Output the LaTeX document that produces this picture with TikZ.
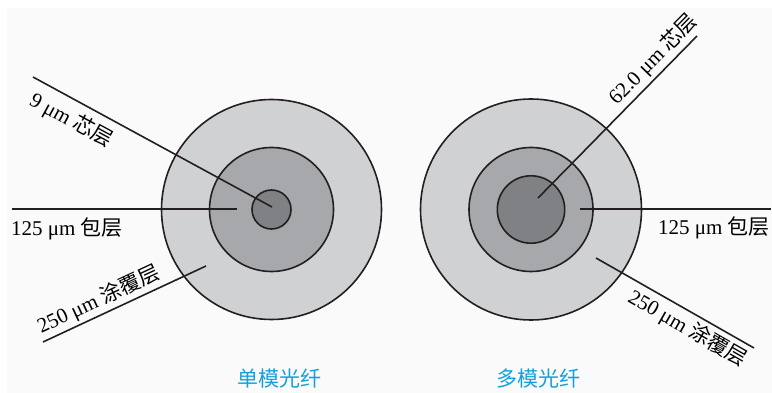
\documentclass[tikz,border=0pt]{standalone}
\usepackage{fontspec}
\setmainfont{Liberation Serif}
\newfontfamily\cjk{Noto Sans CJK SC}
\definecolor{bgc}{RGB}{250,250,250}
\definecolor{linec}{RGB}{35,31,32}
\definecolor{outc}{RGB}{208,209,211}
\definecolor{midc}{RGB}{167,168,171}
\definecolor{inc}{RGB}{128,129,132}
\definecolor{capc}{RGB}{20,160,220}
\begin{document}
\begin{tikzpicture}[x=1pt,y=-1pt,
  ring/.style={draw=linec,line width=1.6pt},
  leader/.style={draw=linec,line width=1.6pt},
  lbl/.style={font=\fontsize{21}{23}\selectfont,inner sep=1pt,text=black},
  captxt/.style={font=\fontsize{21}{23}\selectfont\cjk,text=capc,inner sep=0pt}]
\useasboundingbox (0,0) rectangle (772,393);
\fill[bgc] (7,8) rectangle (772,393);
% single-mode
\coordinate (sm) at (271.5,209.5);
\fill[outc,ring] (sm) circle[radius=110];
\fill[midc,ring] (sm) circle[radius=62];
\fill[inc,ring] (sm) circle[radius=19.5];
% multimode
\coordinate (mm) at (531,209.5);
\fill[outc,ring] (mm) circle[radius=110.5];
\fill[midc,ring] (mm) circle[radius=62];
\fill[inc,ring] (mm) circle[radius=33.7];
% left leaders
\coordinate (a1) at (33,77);   \coordinate (a2) at (272,207);
\coordinate (b1) at (12,209);  \coordinate (b2) at (237,209);
\coordinate (c1) at (43,342);  \coordinate (c2) at (206,266);
\draw[leader] (a1) -- (a2) node[lbl,pos=0.2,sloped,below=7pt] (la) {9 μm {\cjk 芯层}};
\draw[leader] (b1) -- (b2);
\node[lbl,anchor=base west] (lb) at (10,235.5) {125 μm {\cjk 包层}};
\draw[leader] (c1) -- (c2) node[lbl,pos=0.38,sloped,above=2pt] (lcoat) {250 μm {\cjk 涂覆层}};
% right leaders
\coordinate (d1) at (538,198); \coordinate (d2) at (697,36);
\coordinate (e1) at (580,209); \coordinate (e2) at (771,209);
\coordinate (f1) at (596,258); \coordinate (f2) at (754,348);
\draw[leader] (d1) -- (d2) node[lbl,pos=0.79,sloped,above=2pt] (ld) {62.0 μm {\cjk 芯层}};
\draw[leader] (e1) -- (e2);
\node[lbl,anchor=base east] (le) at (771,235) {125 μm {\cjk 包层}};
\draw[leader] (f1) -- (f2) node[lbl,pos=0.63,sloped,below=3pt] (lf) {250 μm {\cjk 涂覆层}};
% captions
\node[captxt] (cs) at (279,379) {单模光纤};
\node[captxt] (cm) at (538,379) {多模光纤};
\end{tikzpicture}
\end{document}
